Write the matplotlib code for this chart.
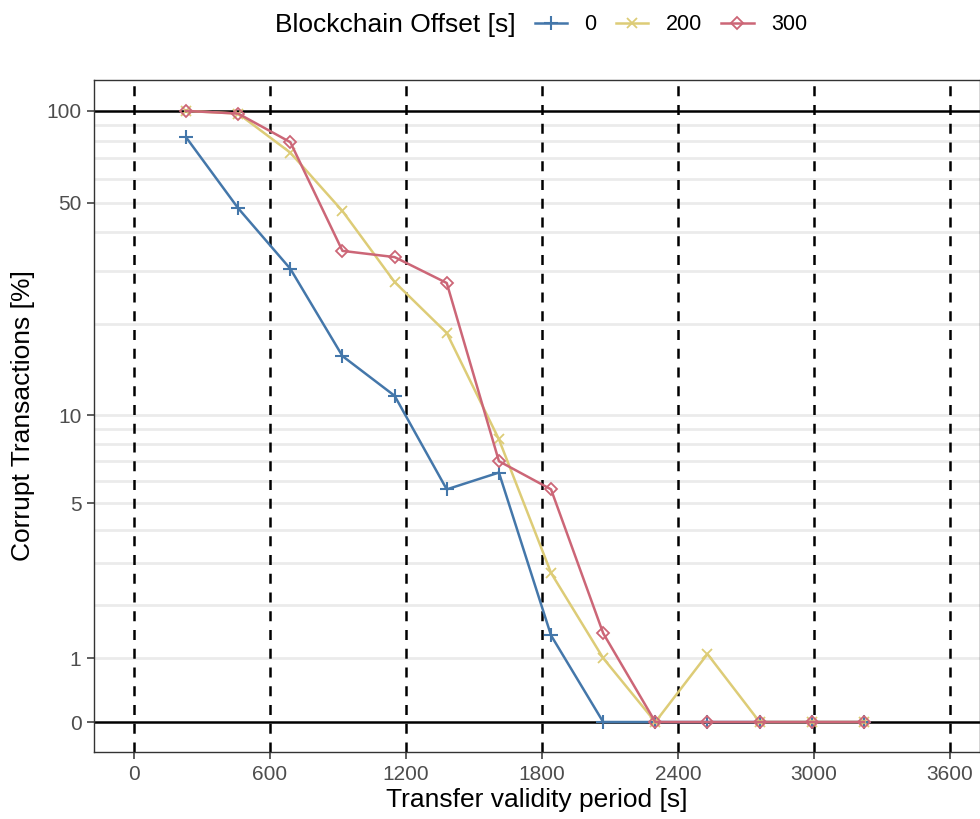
import numpy as np
import matplotlib
matplotlib.use("Agg")
import matplotlib.pyplot as plt
from matplotlib.offsetbox import HPacker

plt.rcParams['font.family'] = ['Liberation Sans', 'DejaVu Sans']

# transfer validity period [s]
periods = [230, 460, 690, 920, 1150, 1380, 1610, 1840, 2070, 2300, 2530, 2760, 2990, 3220]
corrupt_0 = [82, 48, 30.4, 15.7, 11.6, 5.6, 6.4, 1.4, 0, 0, 0, 0, 0, 0]
corrupt_200 = [100, 98, 73, 47, 27.5, 18.7, 8.3, 2.75, 1.0, 0, 1.07, 0, 0, 0]
corrupt_300 = [100, 98, 79, 34.8, 33.2, 27.3, 7.0, 5.6, 1.44, 0, 0, 0, 0, 0]
offsets = ['0', '200', '300']

x_ticks = [0, 600, 1200, 1800, 2400, 3000, 3600]
y_ticks = [0, 1, 5, 10, 50, 100]
y_grid = [1, 2, 3, 4, 5, 6, 7, 8, 9, 10, 20, 30, 40, 50, 60, 70, 80, 90]


# pseudo log (sigma = 1)
def fwd(v):
    return np.arcsinh(np.asarray(v) / 2.0)


def inv(v):
    return 2.0 * np.sinh(np.asarray(v))


fig = plt.figure(figsize=(9.8, 8.19), dpi=100)
ax = fig.add_axes([0.0959, 0.0818, 0.9041, 0.8205])
ax.set_yscale('function', functions=(fwd, inv))

for g in y_grid:
    ax.axhline(g, color='#EBEBEB', lw=2, zorder=0)
for xv in x_ticks:
    ax.axvline(xv, color='black', lw=1.8, ls=(0, (4, 3.5)), zorder=1)
ax.axhline(0, color='black', lw=1.8, zorder=1)
ax.axhline(100, color='black', lw=1.8, zorder=1)

ax.plot(periods, corrupt_0, color='#4477AA', lw=1.8, marker='+', ms=10, mew=1.5, label=offsets[0], zorder=3)
ax.plot(periods, corrupt_200, color='#DDCC77', lw=1.8, marker='x', ms=7, mew=1.3, label=offsets[1], zorder=3)
ax.plot(periods, corrupt_300, color='#CC6677', lw=1.8, marker='D', ms=6.5, mew=1.3, mfc='none', label=offsets[2], zorder=3)

ax.set_xlim(-176, 3732)
ax.set_ylim(inv(-0.226), inv(4.838))
ax.set_xticks(x_ticks)
ax.set_yticks(y_ticks)
ax.set_yticklabels([str(t) for t in y_ticks])
ax.minorticks_off()
ax.tick_params(axis='both', colors='#333333', labelcolor='#4D4D4D', labelsize=15, length=5, width=1.1, pad=4)
for s in ax.spines.values():
    s.set_color('#333333')
    s.set_linewidth(1)

ax.set_xlabel('Transfer validity period [s]', fontsize=19, labelpad=3)
ax.set_ylabel('Corrupt Transactions [%]', fontsize=19, labelpad=8)

leg = fig.legend(loc='upper center', bbox_to_anchor=(0.552, 1.008), ncol=3, frameon=False,
                 title='Blockchain Offset [s]', fontsize=15.5, title_fontsize=19,
                 handlelength=1.5, columnspacing=0.9, handletextpad=0.8)
# put title on the same row as the entries
title_box = leg._legend_title_box
leg._legend_box._children = [HPacker(pad=0, sep=14, align='center',
                                     children=[title_box] + leg._legend_box._children[1:])]

fig.savefig('out.png', dpi=100)
